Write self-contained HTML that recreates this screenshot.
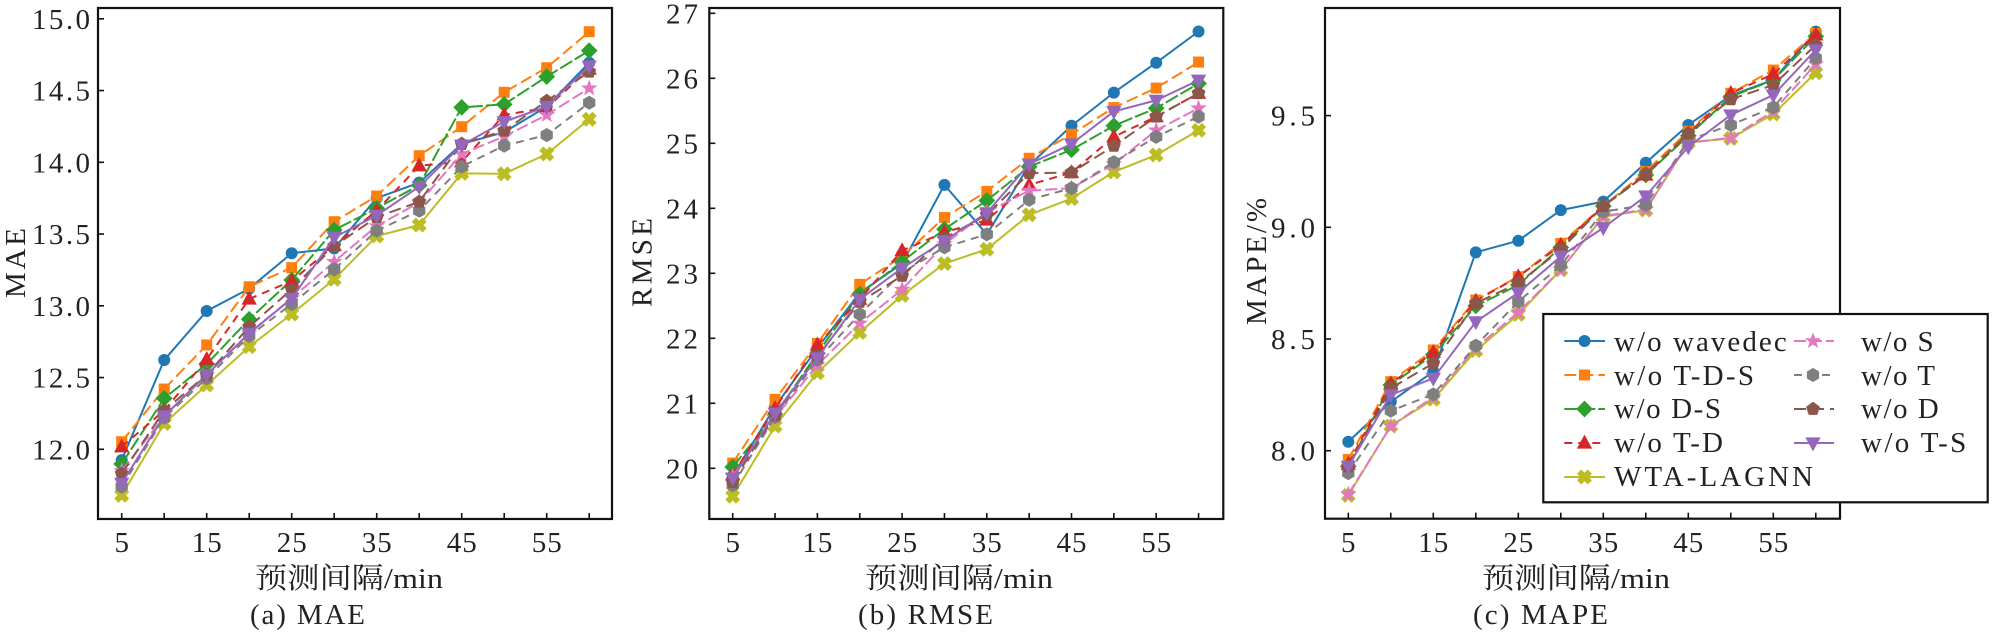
<!DOCTYPE html>
<html>
<head>
<meta charset="utf-8">
<style>
html,body{margin:0;padding:0;background:#fff;}
body{width:1992px;height:634px;overflow:hidden;}
svg{display:block;}
text{font-family:"Liberation Serif","Noto Serif CJK SC","Noto Sans CJK SC",serif;fill:#222;}
.tk{font-size:29px;}
.lg{font-size:29px;}
.lab{font-size:29px;}
</style>
</head>
<body>
<svg id="root" width="1992" height="634" viewBox="0 0 1992 634" xmlns="http://www.w3.org/2000/svg">
<rect x="0" y="0" width="1992" height="634" fill="#fff"/>

<g id="ticks" stroke="#111" stroke-width="1.6"></g>
<g id="series"></g>

<!-- spines -->
<g fill="none" stroke="#111" stroke-width="2.2">
  <rect x="98" y="8" width="514" height="511"/>
  <rect x="709.3" y="8" width="514" height="511"/>
  <rect x="1325" y="8" width="515" height="510.7"/>
</g>

<!-- Plot A tick labels -->
<g class="tk" text-anchor="end">
  <text x="90" y="459.3" textLength="58">12.0</text>
  <text x="90" y="387.6" textLength="58">12.5</text>
  <text x="90" y="315.8" textLength="58">13.0</text>
  <text x="90" y="244.1" textLength="58">13.5</text>
  <text x="90" y="172.3" textLength="58">14.0</text>
  <text x="90" y="100.6" textLength="58">14.5</text>
  <text x="90" y="28.8" textLength="58">15.0</text>
</g>
<g class="tk" text-anchor="middle">
  <text x="121.7" y="552">5</text>
  <text x="206.7" y="552" textLength="30">15</text>
  <text x="291.7" y="552" textLength="30">25</text>
  <text x="376.7" y="552" textLength="30">35</text>
  <text x="461.7" y="552" textLength="30">45</text>
  <text x="546.7" y="552" textLength="30">55</text>
</g>

<!-- Plot B tick labels -->
<g class="tk" text-anchor="end">
  <text x="698" y="478.3" textLength="32">20</text>
  <text x="698" y="413.3" textLength="32">21</text>
  <text x="698" y="348.3" textLength="32">22</text>
  <text x="698" y="283.3" textLength="32">23</text>
  <text x="698" y="218.3" textLength="32">24</text>
  <text x="698" y="153.3" textLength="32">25</text>
  <text x="698" y="88.3" textLength="32">26</text>
  <text x="698" y="23.3" textLength="32">27</text>
</g>
<g class="tk" text-anchor="middle">
  <text x="732.7" y="552">5</text>
  <text x="817.4" y="552" textLength="30">15</text>
  <text x="902.1" y="552" textLength="30">25</text>
  <text x="986.8" y="552" textLength="30">35</text>
  <text x="1071.5" y="552" textLength="30">45</text>
  <text x="1156.2" y="552" textLength="30">55</text>
</g>

<!-- Plot C tick labels -->
<g class="tk" text-anchor="end">
  <text x="1315" y="460.7" textLength="44">8.0</text>
  <text x="1315" y="349" textLength="44">8.5</text>
  <text x="1315" y="237.3" textLength="44">9.0</text>
  <text x="1315" y="125.6" textLength="44">9.5</text>
</g>
<g class="tk" text-anchor="middle">
  <text x="1348.3" y="552">5</text>
  <text x="1433.3" y="552" textLength="30">15</text>
  <text x="1518.3" y="552" textLength="30">25</text>
  <text x="1603.3" y="552" textLength="30">35</text>
  <text x="1688.3" y="552" textLength="30">45</text>
  <text x="1773.3" y="552" textLength="30">55</text>
</g>

<!-- axis labels -->
<g class="lab">
  <text x="255" y="588" textLength="188" lengthAdjust="spacingAndGlyphs">预测间隔/min</text>
  <text x="865" y="588" textLength="188" lengthAdjust="spacingAndGlyphs">预测间隔/min</text>
  <text x="1482" y="588" textLength="188" lengthAdjust="spacingAndGlyphs">预测间隔/min</text>
  <text x="250" y="624" textLength="115">(a) MAE</text>
  <text x="858" y="624" textLength="135">(b) RMSE</text>
  <text x="1473" y="624" textLength="135">(c) MAPE</text>
  <text transform="translate(25,263) rotate(-90)" text-anchor="middle" textLength="70">MAE</text>
  <text transform="translate(651.5,262.5) rotate(-90)" text-anchor="middle" textLength="89">RMSE</text>
  <text transform="translate(1266,261.5) rotate(-90)" text-anchor="middle" textLength="127">MAPE/%</text>
</g>

<!-- legend -->
<rect x="1543.3" y="314" width="444.4" height="188.3" fill="#fff" stroke="#111" stroke-width="2.2"/>
<g id="leghandles"></g>
<g class="lg">
  <text x="1614" y="351" textLength="172.7">w/o wavedec</text>
  <text x="1614" y="385" textLength="140">w/o T-D-S</text>
  <text x="1614" y="418" textLength="107">w/o D-S</text>
  <text x="1614" y="452" textLength="109">w/o T-D</text>
  <text x="1614" y="486" textLength="199">WTA-LAGNN</text>
  <text x="1861" y="351" textLength="72.7">w/o S</text>
  <text x="1861" y="385" textLength="74">w/o T</text>
  <text x="1861" y="418" textLength="77.7">w/o D</text>
  <text x="1861" y="452" textLength="105.3">w/o T-S</text>
</g>
</svg>

<script>
(function(){
var ST=[
 {c:'#1f77b4',d:'',m:'o'},
 {c:'#ff7f0e',d:'12,5',m:'s'},
 {c:'#2ca02c',d:'14,3',m:'D'},
 {c:'#d62728',d:'8,6',m:'^'},
 {c:'#bcbd22',d:'',m:'X'},
 {c:'#e377c2',d:'12,4',m:'*'},
 {c:'#7f7f7f',d:'8,6',m:'h'},
 {c:'#8c564b',d:'12,6',m:'p'},
 {c:'#9467bd',d:'',m:'v'}
];
var MAE=[
 [11.925,12.622,12.964,13.12,13.366,13.40,13.75,13.858,14.128,14.21,14.388,14.694],
 [12.053,12.42,12.727,13.133,13.266,13.586,13.765,14.046,14.248,14.488,14.659,14.91],
 [11.898,12.355,12.594,12.906,13.18,13.528,13.68,13.84,14.383,14.404,14.597,14.778],
 [12.018,12.27,12.627,13.047,13.173,13.42,13.663,13.976,14.004,14.33,14.38,14.65],
 [11.68,12.18,12.448,12.715,12.943,13.185,13.486,13.563,13.923,13.92,14.058,14.30],
 [11.849,12.23,12.52,12.81,13.052,13.307,13.556,13.72,14.058,14.18,14.33,14.516],
 [11.74,12.22,12.495,12.79,13.013,13.254,13.523,13.663,13.97,14.116,14.19,14.415],
 [11.83,12.27,12.52,12.854,13.115,13.417,13.617,13.725,14.128,14.22,14.427,14.631],
 [11.763,12.232,12.52,12.808,13.05,13.477,13.63,13.83,14.12,14.283,14.388,14.67]
];
var RMSE=[
 [19.88,20.95,21.85,22.70,23.15,24.36,23.60,24.66,25.27,25.78,26.24,26.72],
 [20.08,21.06,21.92,22.83,23.26,23.86,24.26,24.77,25.14,25.55,25.85,26.25],
 [20.02,20.82,21.77,22.68,23.18,23.68,24.12,24.64,24.90,25.27,25.54,25.92],
 [19.90,20.92,21.90,22.60,23.35,23.63,23.82,24.36,24.55,25.10,25.41,25.77],
 [19.57,20.65,21.47,22.09,22.66,23.15,23.37,23.90,24.15,24.56,24.82,25.20],
 [19.88,20.78,21.59,22.23,22.75,23.45,23.94,24.27,24.31,24.68,25.20,25.54],
 [19.74,20.79,21.67,22.37,23.01,23.40,23.60,24.13,24.31,24.71,25.10,25.41],
 [19.79,20.82,21.72,22.56,22.96,23.54,23.90,24.54,24.55,24.96,25.41,25.77],
 [19.85,20.85,21.70,22.60,23.08,23.50,23.93,24.68,24.99,25.49,25.66,25.97]
];
var MAPE=[
 [8.04,8.219,8.354,8.888,8.94,9.077,9.115,9.289,9.458,9.59,9.66,9.876],
 [7.961,8.309,8.451,8.675,8.779,8.928,9.095,9.25,9.43,9.60,9.704,9.868],
 [7.93,8.294,8.43,8.648,8.742,8.91,9.095,9.234,9.41,9.585,9.659,9.855],
 [7.94,8.30,8.44,8.67,8.779,8.92,9.095,9.234,9.42,9.60,9.686,9.861],
 [7.80,8.111,8.23,8.448,8.61,8.81,9.047,9.077,9.379,9.398,9.507,9.692],
 [7.805,8.11,8.24,8.46,8.62,8.81,9.05,9.08,9.38,9.40,9.52,9.73],
 [7.90,8.179,8.252,8.47,8.667,8.83,9.07,9.10,9.39,9.458,9.537,9.757],
 [7.93,8.28,8.391,8.66,8.75,8.90,9.095,9.24,9.42,9.573,9.637,9.816],
 [7.93,8.25,8.324,8.577,8.707,8.87,8.998,9.14,9.36,9.503,9.592,9.794]
];
function poly(pts,x,y,c){
  return '<polygon points="'+pts.map(function(p){return (x+p[0]).toFixed(2)+','+(y+p[1]).toFixed(2);}).join(' ')+'" fill="'+c+'" stroke="'+c+'" stroke-width="0.8"/>';
}
function reg(n,r,a0){var o=[];for(var k=0;k<n;k++){var a=(a0+k*360/n)*Math.PI/180;o.push([r*Math.cos(a),r*Math.sin(a)]);}return o;}
var STAR=(function(){var o=[];for(var k=0;k<10;k++){var r=(k%2==0)?7.5:3.1;var a=(-90+k*36)*Math.PI/180;o.push([r*Math.cos(a),r*Math.sin(a)]);}return o;})();
var XS=(function(){var w=0.36,s=7.2;var b=[[-w,-1],[w,-1],[w,-w],[1,-w],[1,w],[w,w],[w,1],[-w,1],[-w,w],[-1,w],[-1,-w],[-w,-w]];var c=Math.SQRT1_2;return b.map(function(p){return [s*(p[0]*c-p[1]*c),s*(p[0]*c+p[1]*c)];});})();
function marker(t,x,y,c){
  switch(t){
    case 'o': return '<circle cx="'+x+'" cy="'+y+'" r="6" fill="'+c+'"/>';
    case 's': return '<rect x="'+(x-5.5)+'" y="'+(y-5.5)+'" width="11" height="11" fill="'+c+'"/>';
    case 'D': return poly([[0,-7.8],[7.8,0],[0,7.8],[-7.8,0]],x,y,c);
    case '^': return poly([[0,-7.5],[7,5.2],[-7,5.2]],x,y,c);
    case 'v': return poly([[0,7.5],[7,-5.2],[-7,-5.2]],x,y,c);
    case 'X': return poly(XS,x,y,c);
    case '*': return poly(STAR,x,y,c);
    case 'h': return poly(reg(6,6.6,-90),x,y,c);
    case 'p': return poly(reg(5,6.8,-90),x,y,c);
  }
  return '';
}
var out='';
function plot(data,px0,sx,py0,y0,sy){
  for(var i=0;i<data.length;i++){
    var s=ST[i],pts=[];
    for(var k=0;k<data[i].length;k++){
      pts.push([px0+5*k*sx,py0-(data[i][k]-y0)*sy]);
    }
    out+='<polyline fill="none" stroke="'+s.c+'" stroke-width="2" stroke-linejoin="round" '+(s.d?'stroke-dasharray="'+s.d+'" ':'')+'points="'+pts.map(function(p){return p[0].toFixed(2)+','+p[1].toFixed(2);}).join(' ')+'"/>';
    for(var k=0;k<pts.length;k++) out+=marker(s.m,pts[k][0],pts[k][1],s.c);
  }
}
plot(MAE,121.7,8.5,449.3,12,143.5);
plot(RMSE,732.7,8.47,468.3,20,65);
plot(MAPE,1348.3,8.5,450.7,8,223.4);
document.getElementById('series').innerHTML=out;

var t='';
function xt(px0,sx,bot){for(var k=0;k<12;k++){var x=px0+5*k*sx;t+='<line x1="'+x+'" y1="'+bot+'" x2="'+x+'" y2="'+(bot-6)+'"/>';}}
function yt(left,ys){ys.forEach(function(y){t+='<line x1="'+left+'" y1="'+y+'" x2="'+(left+6)+'" y2="'+y+'"/>';});}
xt(121.7,8.5,519); xt(732.7,8.47,519); xt(1348.3,8.5,518.7);
yt(98,[449.3,377.55,305.8,234.05,162.3,90.55,18.8]);
yt(709.3,[468.3,403.3,338.3,273.3,208.3,143.3,78.3,13.3]);
yt(1325,[450.7,339,227.3,115.6]);
document.getElementById('ticks').innerHTML=t;

var L='';
var rows=[341,375,409,443,477];
var idx1=[0,1,2,3,4], idx2=[5,6,7,8];
function handle(i,x1,x2,xm,y){
  var s=ST[i];
  L+='<line x1="'+x1+'" y1="'+y+'" x2="'+x2+'" y2="'+y+'" stroke="'+s.c+'" stroke-width="2" '+(s.d?'stroke-dasharray="'+s.d+'" ':'')+'/>';
  L+=marker(s.m,xm,y,s.c);
}
idx1.forEach(function(i,r){handle(i,1564.3,1605,1584.5,rows[r]);});
idx2.forEach(function(i,r){handle(i,1794,1834,1813,rows[r]);});
document.getElementById('leghandles').innerHTML=L;
})();
</script>
</body>
</html>
